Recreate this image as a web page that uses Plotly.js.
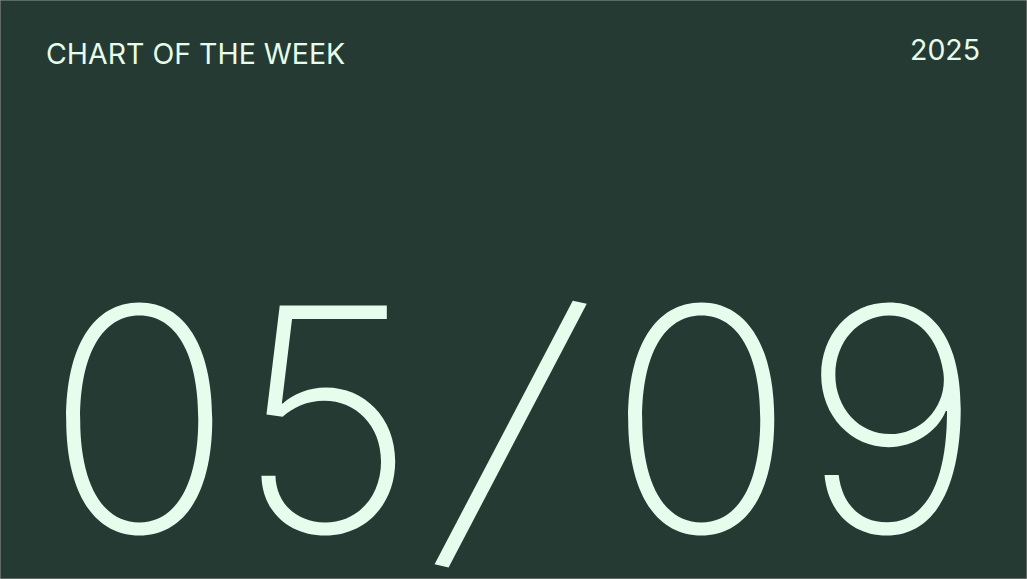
<!DOCTYPE html>
<html>
<head>
<meta charset="utf-8">
<script src="https://cdn.plot.ly/plotly-3.0.1.min.js"></script>
<style>
  html, body { margin: 0; padding: 0; background: #253a33; }
  #chart { width: 1027px; height: 579px; }
</style>
</head>
<body>
<div id="chart"></div>
<script>
// Card texts
const headerLabels = ['CHART OF THE WEEK', '2025'];
const dateChars = ['0', '5', '/', '0', '9'];

// Where each big character sits (paper fraction, centre of glyph)
const charX = [0.1353, 0.3174, 0.5, 0.6821, 0.8676];

const ink = '#e6fcec';
const bg = '#253a33';

const annotations = [
    {
        text: headerLabels[0],
        xref: 'paper', yref: 'paper', x: 0.0432, y: 0.908,
        xanchor: 'left', yanchor: 'middle', showarrow: false,
        font: { family: 'Inter', size: 28.5, color: ink, weight: 400 }
    },
    {
        text: headerLabels[1],
        xref: 'paper', yref: 'paper', x: 0.9565, y: 0.914,
        xanchor: 'right', yanchor: 'middle', showarrow: false,
        font: { family: 'Inter', size: 28.5, color: ink, weight: 400 }
    }
];

dateChars.forEach((ch, i) => {
    const isSlash = ch === '/';
    annotations.push({
        text: ch,
        xref: 'paper', yref: 'paper',
        x: charX[i],
        y: isSlash ? 0.271 : 0.2763,
        xanchor: 'center', yanchor: 'middle', showarrow: false,
        // keep the text box tight to the glyph so it stays inside the card
        height: isSlash ? 330 : 250,
        // the slash in the card leans further than the font's own
        textangle: isSlash ? 12.6 : 0,
        font: { family: 'Inter', size: isSlash ? 330 : 312, color: ink, weight: 200 }
    });
});

const layout = {
    width: 1027,
    height: 579,
    paper_bgcolor: bg,
    plot_bgcolor: bg,
    margin: { l: 0, r: 0, t: 0, b: 0 },
    xaxis: { visible: false, range: [0, 1] },
    yaxis: { visible: false, range: [0, 1] },
    showlegend: false,
    annotations: annotations,
    shapes: [{
        type: 'rect', xref: 'paper', yref: 'paper',
        x0: 0, x1: 1, y0: 0, y1: 1,
        line: { color: '#9a9a9a', width: 1 }
    }]
};

Plotly.newPlot('chart', [], layout, { displayModeBar: false, staticPlot: true });
</script>
</body>
</html>
